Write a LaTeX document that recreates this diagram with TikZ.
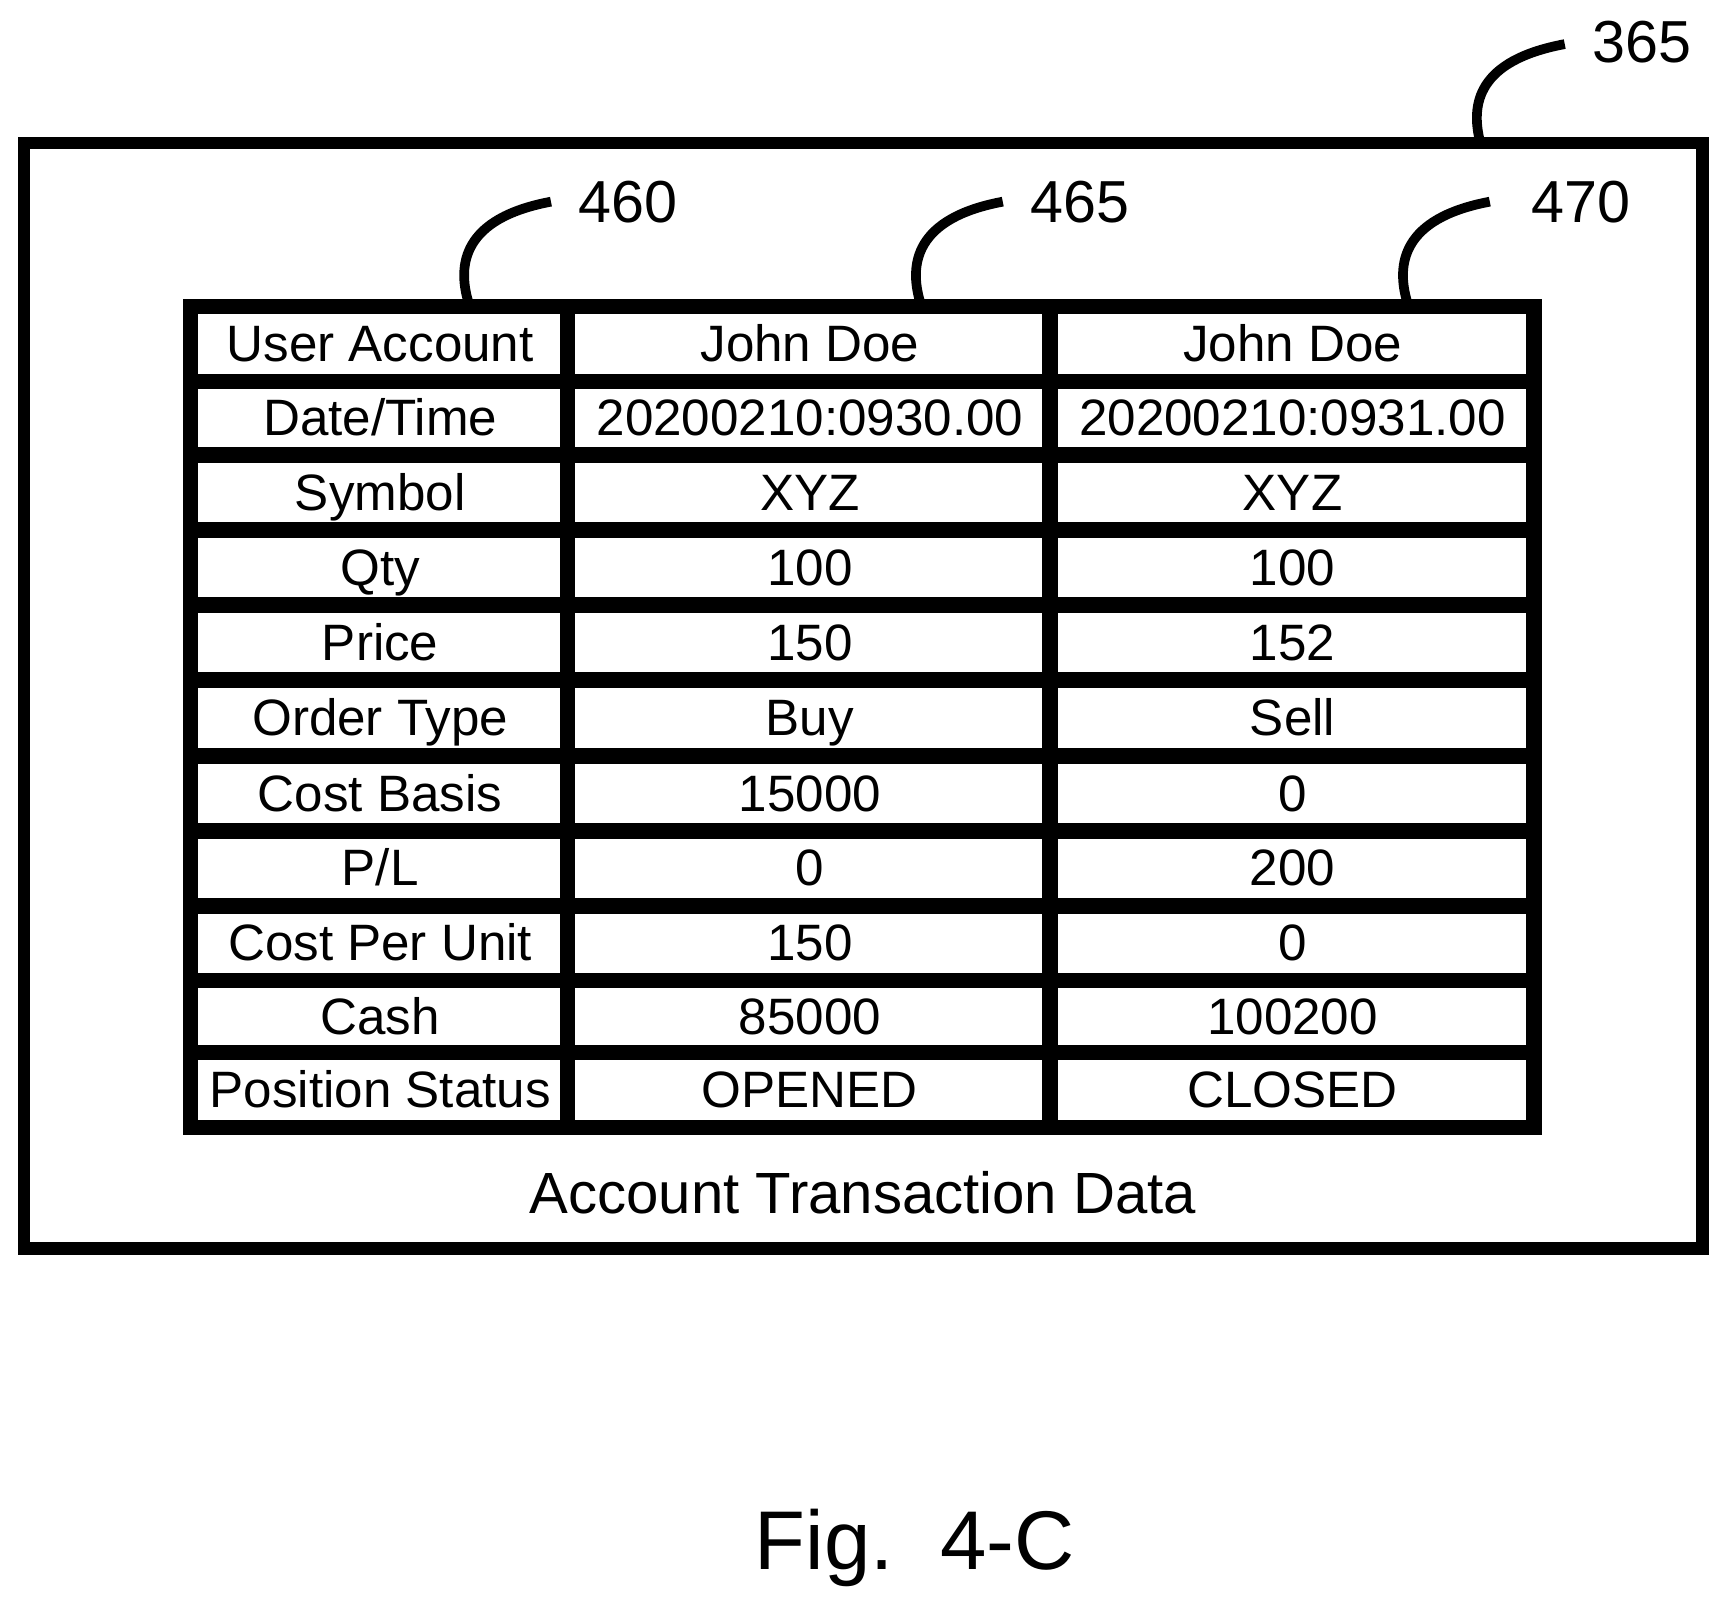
\documentclass[tikz,border=0pt]{standalone}
\usepackage{fontspec}
\setmainfont{Liberation Sans}
\usetikzlibrary{calc}
\begin{document}
\begin{tikzpicture}[x=0.01cm,y=-0.01cm,
  celltext/.style={anchor=base,inner sep=0pt,font=\fontsize{13.2}{15}\selectfont},
  refnum/.style={font=\fontsize{15.3}{18}\selectfont},
  leader/.style={line width=2.5pt}]
  \useasboundingbox (0,0) rectangle (1560,1459);
  % outer frame
  \draw[line width=3.2pt] (22,130) rectangle (1545,1133);
  \node[font=\fontsize{15}{18}\selectfont] (title) at (783,1082) {Account Transaction Data};
  % table cells
  \foreach \i/\lab/\va/\vb/\yt/\yb in {
      1/User Account/John Doe/John Doe/278/346,
      2/Date\slash Time/20200210:0930.00/20200210:0931.00/346/413,
      3/Symbol/XYZ/XYZ/413/481,
      4/Qty/100/100/481/549,
      5/Price/150/152/549/617,
      6/Order Type/Buy/Sell/617/686,
      7/Cost Basis/15000/0/686/754,
      8/P\slash L/0/200/754/822,
      9/Cost Per Unit/150/0/822/890,
      10/Cash/85000/100200/890/955,
      11/Position Status/OPENED/CLOSED/955/1023} {
    \draw[line width=4pt] (173,\yt) rectangle (515,\yb);
    \draw[line width=4pt] (515,\yt) rectangle (953,\yb);
    \draw[line width=4pt] (953,\yt) rectangle (1392,\yb);
    \node[celltext] (lab\i) at (345,{(\yt+\yb)/2+16}) {\lab};
    \node[celltext] (a\i) at (735,{(\yt+\yb)/2+16}) {\va};
    \node[celltext] (b\i) at (1173,{(\yt+\yb)/2+16}) {\vb};
  }
  % reference numerals
  \node[refnum] (n365) at (1490,38) {365};
  \node[refnum] (n460) at (570,183) {460};
  \node[refnum] (n465) at (980,183) {465};
  \node[refnum] (n470) at (1435,183) {470};
  \draw[leader] (1420,40) .. controls (1340,55) and (1335,95) .. (1343,128);
  \draw[leader] (500,183) .. controls (420,198) and (415,240) .. (425,274);
  \draw[leader] (910,183) .. controls (830,198) and (825,240) .. (835,274);
  \draw[leader] (1352,183) .. controls (1272,198) and (1267,240) .. (1277,274);
  \node[font=\fontsize{21.5}{26}\selectfont] (fig) at (830,1405) {Fig.\ \ 4-C};
\end{tikzpicture}
\end{document}
